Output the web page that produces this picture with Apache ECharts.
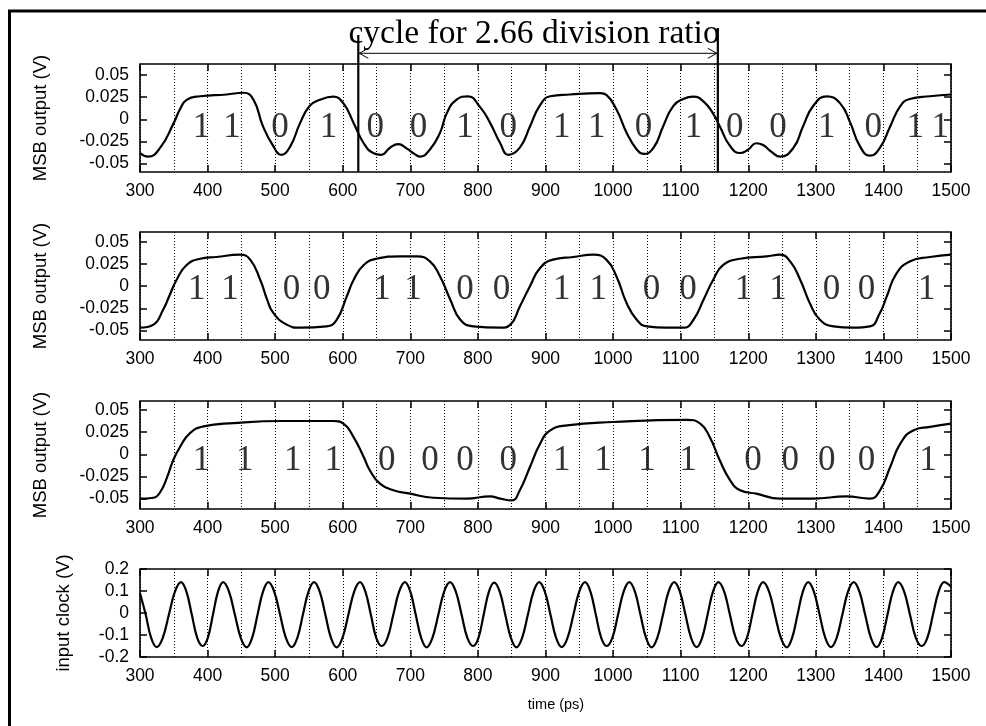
<!DOCTYPE html>
<html><head><meta charset="utf-8">
<script src="https://cdn.jsdelivr.net/npm/echarts@6/dist/echarts.min.js"></script>
<style>html,body{margin:0;padding:0;background:#fff}#c{width:986px;height:726px}</style>
</head><body><div id="c"></div>
<script>
// ---------- data ----------
const xTicks = [300,400,500,600,700,800,900,1000,1100,1200,1300,1400,1500];
const msbTicks = [-0.05,-0.025,0,0.025,0.05];
const clkTicks = [-0.2,-0.1,0,0.1,0.2];

const msb1Time = [300,312,330,350,359,369,389,428,453,468,482,497,509,522,537,551,566,586,601,616,631,645,657,670,682,695,706,714,729,744,754,768,785,803,818,833,845,862,877,892,907,936,981,990,1005,1020,1035,1045,1060,1074,1089,1104,1119,1134,1148,1158,1173,1188,1200,1212,1222,1235,1247,1267,1281,1296,1316,1336,1351,1365,1380,1395,1410,1425,1439,1469,1500];
const msb1Volt = [-0.038,-0.042,-0.032,-0.004,0.011,0.022,0.026,0.028,0.030,0.022,-0.008,-0.030,-0.040,-0.031,-0.004,0.015,0.022,0.0255,0.018,-0.004,-0.027,-0.038,-0.040,-0.032,-0.028,-0.033,-0.039,-0.042,-0.034,-0.015,0.007,0.022,0.026,0.014,-0.004,-0.027,-0.040,-0.032,-0.008,0.016,0.026,0.028,0.0295,0.0275,0.011,-0.015,-0.034,-0.039,-0.032,-0.008,0.015,0.023,0.0255,0.020,0.0065,-0.008,-0.030,-0.038,-0.034,-0.027,-0.029,-0.037,-0.042,-0.032,-0.008,0.015,0.026,0.018,-0.004,-0.030,-0.041,-0.032,-0.008,0.015,0.023,0.026,0.028];

const msb2Time = [300,320,334,344,354,369,389,413,448,463,478,488,497,517,537,576,591,606,616,631,650,685,710,729,744,759,774,793,833,848,862,877,892,911,941,971,990,1005,1020,1035,1050,1079,1104,1119,1134,1148,1163,1188,1227,1247,1262,1277,1291,1306,1326,1355,1380,1395,1405,1419,1439,1469,1500];
const msb2Volt = [-0.047,-0.0435,-0.027,-0.010,0.007,0.024,0.031,0.033,0.0356,0.030,0.007,-0.015,-0.030,-0.0435,-0.047,-0.0455,-0.038,-0.0115,0.007,0.024,0.031,0.0337,0.0337,0.028,0.011,-0.015,-0.038,-0.0455,-0.047,-0.0435,-0.023,0,0.0206,0.030,0.033,0.0356,0.030,0.011,-0.019,-0.038,-0.0455,-0.047,-0.047,-0.038,-0.015,0.007,0.024,0.031,0.0337,0.0356,0.028,0.007,-0.019,-0.038,-0.0455,-0.047,-0.0455,-0.030,-0.0115,0.014,0.028,0.033,0.0356];

const msb3Time = [300,320,330,340,349,359,374,394,438,512,586,601,616,631,640,655,675,700,734,783,818,833,850,862,877,892,907,932,1000,1109,1129,1143,1158,1173,1188,1212,1247,1296,1345,1380,1395,1410,1425,1444,1469,1500];
const msb3Volt = [-0.050,-0.049,-0.0425,-0.026,-0.007,0.008,0.024,0.0316,0.0353,0.0376,0.0376,0.0346,0.0195,-0.003,-0.018,-0.033,-0.0406,-0.0444,-0.049,-0.050,-0.0474,-0.050,-0.052,-0.0406,-0.0143,0.012,0.027,0.0327,0.0365,0.039,0.0346,0.0195,-0.007,-0.029,-0.0406,-0.0444,-0.050,-0.050,-0.0474,-0.050,-0.0406,-0.0143,0.012,0.027,0.031,0.0346];

const clockTime = [300,308.5,316.5,324.7,
  333.7,342.7,351.7,360.7, 368.7,376.7,384.7,392.7, 400.3,407.9,415.4,423, 431.7,440.4,449.1,457.8,
  465.9,473.9,482,490, 498.6,507.3,515.9,524.5, 532.8,541,549.3,557.5, 565.9,574.3,582.6,591,
  599.6,608.3,616.9,625.5, 633.5,641.6,649.6,657.6, 666.2,674.8,683.4,692, 700,708,716,724,
  732.7,741.4,750,758.7, 767.3,775.9,784.4,793, 800.8,808.5,816.3,824, 832.3,840.5,848.8,857,
  865.4,873.9,882.3,890.7, 899,907.4,915.7,924, 932.6,941.3,949.9,958.5, 966.5,974.5,982.5,990.5,
  998.9,1007.3,1015.6,1024, 1032.3,1040.5,1048.8,1057, 1065.4,1073.8,1082.1,1090.5, 1098.8,1107.1,1115.4,1123.7,
  1131.7,1139.8,1147.8,1155.8, 1164.4,1172.9,1181.5,1190, 1198,1206,1214,1222, 1230.8,1239.5,1248.3,1257,
  1264.9,1272.9,1280.8,1288.7, 1297.1,1305.6,1314,1322.4, 1330.8,1339.2,1347.6,1356, 1364.5,1373,1381.5,1390,
  1398,1406,1414,1422, 1430.7,1439.3,1448,1456.6, 1465,1473.3,1481.7,1490, 1500];
const clockVolt = [0.09,-0.008,-0.113,-0.155,
  -0.113,-0.008,0.097,0.14, 0.097,-0.008,-0.113,-0.15, -0.113,-0.008,0.097,0.14, 0.097,-0.008,-0.113,-0.156,
  -0.113,-0.008,0.097,0.14, 0.097,-0.008,-0.113,-0.155, -0.113,-0.008,0.097,0.14, 0.097,-0.008,-0.113,-0.156,
  -0.113,-0.008,0.097,0.14, 0.097,-0.008,-0.113,-0.15, -0.113,-0.008,0.097,0.14, 0.097,-0.008,-0.113,-0.156,
  -0.113,-0.008,0.097,0.14, 0.097,-0.008,-0.113,-0.15, -0.113,-0.008,0.097,0.138, 0.097,-0.008,-0.113,-0.156,
  -0.113,-0.008,0.097,0.14, 0.097,-0.008,-0.113,-0.155, -0.113,-0.008,0.097,0.14, 0.097,-0.008,-0.113,-0.15,
  -0.113,-0.008,0.097,0.14, 0.097,-0.008,-0.113,-0.156, -0.113,-0.008,0.097,0.14, 0.097,-0.008,-0.113,-0.155,
  -0.113,-0.008,0.097,0.14, 0.097,-0.008,-0.113,-0.15, -0.113,-0.008,0.097,0.14, 0.097,-0.008,-0.113,-0.156,
  -0.113,-0.008,0.097,0.14, 0.097,-0.008,-0.113,-0.155, -0.113,-0.008,0.097,0.14, 0.097,-0.008,-0.113,-0.155,
  -0.113,-0.008,0.097,0.14, 0.097,-0.008,-0.113,-0.15, -0.113,-0.008,0.097,0.14, 0.12];

const bits1Time = [391,436,507,579,648,712,781,845,924,976,1045,1119,1180,1244,1316,1385,1447,1484];
const bits1 = ['1','1','0','1','0','0','1','0','1','1','0','1','0','0','1','0','1','1'];
const bits2Time = [384,433,524,569,658,704,781,835,924,978,1057,1111,1193,1244,1323,1375,1464];
const bits2 = ['1','1','0','0','1','1','0','0','1','1','0','0','1','1','0','0','1'];
const bits3Time = [391,455,526,586,665,729,781,845,924,985,1050,1111,1207,1262,1316,1375,1466];
const bits3 = ['1','1','1','1','0','0','0','0','1','1','1','1','0','0','0','0','1'];

const cycleStart = 623, cycleEnd = 1155;
const cycleText = 'cycle for 2.66 division ratio';
const yNameMSB = 'MSB output (V)', yNameClk = 'input clock (V)', xName = 'time (ps)';

// ---------- layout / style ----------
const SANS = 'Liberation Sans', SERIF = 'Liberation Serif';
const panels = [
  {top:64, height:108, min:-0.0594, max:0.0624, ticks:msbTicks, name:yNameMSB, gap:90, t:msb1Time, v:msb1Volt, bt:bits1Time, b:bits1, lvl:-0.0098, sm:0.5},
  {top:232, height:108, min:-0.0609, max:0.0613, ticks:msbTicks, name:yNameMSB, gap:90, t:msb2Time, v:msb2Volt, bt:bits2Time, b:bits2, lvl:-0.004, sm:0.5},
  {top:401, height:108, min:-0.0617, max:0.0602, ticks:msbTicks, name:yNameMSB, gap:90, t:msb3Time, v:msb3Volt, bt:bits3Time, b:bits3, lvl:-0.0068, sm:0.5},
  {top:569, height:88, min:-0.2, max:0.2, ticks:clkTicks, name:yNameClk, gap:67, t:clockTime, v:clockVolt, bt:null, sm:0.4}
];
const dotted = {type:[1,2], color:'#000', width:1};
const tickStyle = {color:'#000', width:1.5};
const fmt = (v) => String(+v.toFixed(4));
const grid = [], xAxis = [], yAxis = [], series = [];
panels.forEach((p, i) => {
  grid.push({left:140, right:35, top:p.top, height:p.height, show:true, borderColor:'#000', borderWidth:1.6, backgroundColor:'transparent'});
  const xb = {gridIndex:i, type:'value', min:300, max:1500, interval:100, position:'bottom',
    axisLine:{show:false, onZero:false}, axisTick:{show:true, inside:true, length:7, lineStyle:tickStyle},
    axisLabel:{show:true, color:'#000', fontSize:17.5, fontFamily:SANS, margin:10, formatter:fmt},
    splitLine:{show:true, lineStyle:dotted},
    minorTick:{show:false, splitNumber:2}, minorSplitLine:{show:true, lineStyle:dotted}};
  if (i === 3) { Object.assign(xb, {name:xName, nameLocation:'middle', nameGap:40, nameTextStyle:{color:'#000', fontSize:14.5, fontFamily:SANS, padding:[0,0,0,21]}}); }
  xAxis.push(xb);
  xAxis.push({gridIndex:i, type:'value', min:300, max:1500, interval:100, position:'top',
    axisLine:{show:false, onZero:false}, axisTick:{show:true, inside:true, length:7, lineStyle:tickStyle},
    axisLabel:{show:false}, splitLine:{show:false}});
  yAxis.push({gridIndex:i, type:'value', min:p.min, max:p.max, position:'left',
    axisLine:{show:false, onZero:false}, axisTick:{show:true, inside:true, length:7, customValues:p.ticks, lineStyle:tickStyle},
    axisLabel:{show:true, color:'#000', fontSize:17.5, fontFamily:SANS, margin:11, customValues:p.ticks, formatter:fmt},
    splitLine:{show:false},
    name:p.name, nameLocation:'middle', nameGap:p.gap, nameTextStyle:{color:'#000', fontSize:18.5, fontFamily:SANS}});
  yAxis.push({gridIndex:i, type:'value', min:p.min, max:p.max, position:'right',
    axisLine:{show:false, onZero:false}, axisTick:{show:true, inside:true, length:7, customValues:p.ticks, lineStyle:tickStyle},
    axisLabel:{show:false}, splitLine:{show:false}});
  series.push({type:'line', xAxisIndex:2*i, yAxisIndex:2*i, showSymbol:false, symbol:'none',
    smooth:p.sm, lineStyle:{color:'#000', width:2.2}, silent:true, animation:false,
    data:p.t.map((t, k) => [t, p.v[k]])});
  if (p.bt) {
    series.push({type:'scatter', xAxisIndex:2*i, yAxisIndex:2*i, symbolSize:1, itemStyle:{color:'rgba(0,0,0,0)'}, silent:true, animation:false,
      label:{show:true, position:'inside', color:'#000', fontSize:35, fontFamily:SERIF, formatter:(q) => p.b[q.dataIndex]},
      labelLayout:{hideOverlap:false},
      data:p.bt.map(t => [t, p.lvl])});
  }
});

const chart = echarts.init(document.getElementById('c'), null, {renderer:'canvas'});
chart.setOption({animation:false, backgroundColor:'#fff', grid, xAxis, yAxis, series});

// annotation placed through the chart's own scales
const x1 = chart.convertToPixel({xAxisIndex:0}, cycleStart);
const x2 = chart.convertToPixel({xAxisIndex:0}, cycleEnd);
const yb = chart.convertToPixel({yAxisIndex:0}, panels[0].min);
const ya = 53.3;
chart.setOption({graphic:[
  {type:'polyline', shape:{points:[[9.5,726],[9.5,11],[986,11]]}, style:{stroke:'#000', lineWidth:3, fill:null}, silent:true},
  {type:'line', shape:{x1:x1, y1:35, x2:x1, y2:yb}, style:{stroke:'#000', lineWidth:2.2}, silent:true},
  {type:'line', shape:{x1:x2, y1:28, x2:x2, y2:yb}, style:{stroke:'#000', lineWidth:2.2}, silent:true},
  {type:'line', shape:{x1:x1, y1:ya, x2:x2, y2:ya}, style:{stroke:'#000', lineWidth:1}, silent:true},
  {type:'polyline', shape:{points:[[x1+10,ya-5],[x1+1,ya],[x1+10,ya+5]]}, style:{stroke:'#000', lineWidth:1, fill:null}, silent:true},
  {type:'polyline', shape:{points:[[x2-10,ya-5],[x2-1,ya],[x2-10,ya+5]]}, style:{stroke:'#000', lineWidth:1, fill:null}, silent:true},
  {type:'text', x:(x1+x2)/2 - 4, y:34, style:{text:cycleText, fill:'#000', font:'33.5px "Liberation Serif"', align:'center', verticalAlign:'middle'}, silent:true, z:10}
]});
</script></body></html>
